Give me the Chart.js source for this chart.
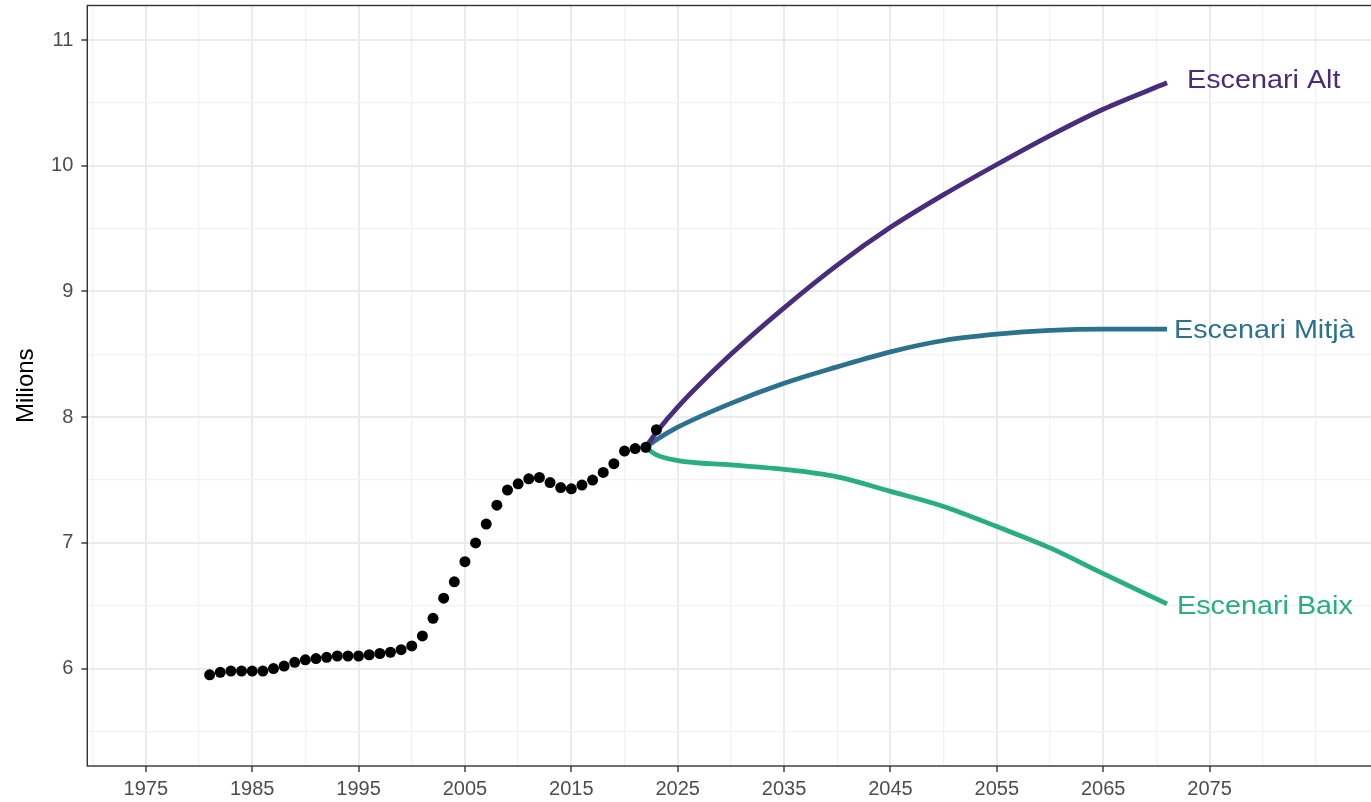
<!DOCTYPE html>
<html>
<head>
<meta charset="utf-8">
<script src="https://cdn.jsdelivr.net/npm/chart.js@4"></script>
<style>
  html, body { margin: 0; padding: 0; background: #fff; overflow: hidden; }
  #wrap { width: 1380px; height: 802px; }
</style>
</head>
<body>
<div id="wrap"><canvas id="chart" width="1380" height="802"></canvas></div>
<script>
// historical population (millions)
const histYears = [1981, 1982, 1983, 1984, 1985, 1986, 1987, 1988, 1989, 1990,
  1991, 1992, 1993, 1994, 1995, 1996, 1997, 1998, 1999, 2000,
  2001, 2002, 2003, 2004, 2005, 2006, 2007, 2008, 2009, 2010,
  2011, 2012, 2013, 2014, 2015, 2016, 2017, 2018, 2019, 2020,
  2021, 2022, 2023];
const histValues = [5.95, 5.97, 5.98, 5.98, 5.98, 5.98, 6.00, 6.02, 6.05, 6.07,
  6.08, 6.09, 6.10, 6.10, 6.10, 6.11, 6.12, 6.13, 6.15, 6.18,
  6.26, 6.40, 6.56, 6.69, 6.85, 7.00, 7.15, 7.30, 7.42, 7.47,
  7.51, 7.52, 7.48, 7.44, 7.43, 7.46, 7.50, 7.56, 7.63, 7.73,
  7.75, 7.76, 7.90];

// projections
const projYears = [2022, 2023, 2025, 2030, 2035, 2040, 2045, 2050, 2055, 2060, 2065, 2071];
const altValues = [7.76, 7.88, 8.08, 8.50, 8.87, 9.21, 9.51, 9.77, 10.01, 10.24, 10.45, 10.66];
const midValues = [7.76, 7.82, 7.92, 8.11, 8.27, 8.40, 8.52, 8.61, 8.66, 8.69, 8.70, 8.70];
const lowValues = [7.76, 7.70, 7.655, 7.62, 7.585, 7.525, 7.41, 7.29, 7.13, 6.96, 6.755, 6.515];

const scenarioNames = ['Escenari Alt', 'Escenari Mitjà', 'Escenari Baix'];
const scenarioColors = ['#472d7b', '#2c728e', '#28ae80'];
const labelDx = [20, 7, 10];
const labelDy = [-2, 2, 3];

const xTicks = [1975, 1985, 1995, 2005, 2015, 2025, 2035, 2045, 2055, 2065, 2075];
const xMinor = [1970, 1980, 1990, 2000, 2010, 2020, 2030, 2040, 2050, 2060, 2070, 2080, 2085];
const yTicks = [6, 7, 8, 9, 10, 11];
const yMinor = [5.5, 6.5, 7.5, 8.5, 9.5, 10.5];

Chart.defaults.font.family = '"Liberation Sans", Arial, sans-serif';

const toXY = (xs, ys) => xs.map((x, i) => ({ x: x, y: ys[i] }));

const scenarioSets = [altValues, midValues, lowValues].map((vals, i) => ({
  type: 'line',
  label: scenarioNames[i],
  data: toXY(projYears, vals),
  borderColor: scenarioColors[i],
  borderWidth: 4.8,
  pointRadius: 0,
  cubicInterpolationMode: 'monotone',
  fill: false,
  order: 1
}));

const panelAndLabels = {
  id: 'panelAndLabels',
  afterDatasetsDraw(chart) {
    const { ctx, chartArea: a, scales } = chart;
    ctx.save();
    ctx.strokeStyle = '#333333';
    ctx.lineWidth = 1.4;
    ctx.strokeRect(a.left, a.top, a.right - a.left, a.bottom - a.top);

    ctx.font = '25px "Liberation Sans", Arial, sans-serif';
    ctx.textBaseline = 'middle';
    ctx.textAlign = 'left';
    [altValues, midValues, lowValues].forEach((vals, i) => {
      const px = scales.x.getPixelForValue(projYears[projYears.length - 1]) + labelDx[i];
      const py = scales.y.getPixelForValue(vals[vals.length - 1]) + labelDy[i];
      ctx.save();
      ctx.translate(px, py);
      ctx.scale(1.15, 1);
      ctx.fillStyle = scenarioColors[i];
      ctx.fillText(scenarioNames[i], 0, 0);
      ctx.restore();
    });
    ctx.restore();
  }
};

function gridOpts(majors) {
  return {
    color: c => majors.includes(c.tick && c.tick.value) ? '#ebebeb' : '#f2f2f2',
    lineWidth: c => majors.includes(c.tick && c.tick.value) ? 2 : 1.3,
    tickColor: c => majors.includes(c.tick && c.tick.value) ? '#333333' : 'rgba(0,0,0,0)',
    tickLength: 6,
    tickWidth: 1.4
  };
}

function noOverhang(s) {
  s.paddingTop = 0;
  s.paddingBottom = 0;
  s.paddingLeft = 0;
  s.paddingRight = 0;
}

new Chart(document.getElementById('chart'), {
  data: {
    datasets: [
      {
        type: 'scatter',
        label: 'Observat',
        data: toXY(histYears, histValues),
        backgroundColor: '#000000',
        borderColor: '#000000',
        pointRadius: 5.5,
        borderWidth: 0,
        order: 0
      },
      ...scenarioSets
    ]
  },
  options: {
    responsive: false,
    animation: false,
    layout: { padding: { top: 4.5, right: 0, left: 0, bottom: 0 } },
    plugins: {
      legend: { display: false },
      tooltip: { enabled: false }
    },
    scales: {
      x: {
        type: 'linear',
        min: 1969.5,
        max: 2090.5,
        afterBuildTicks: s => { s.ticks = [...xTicks, ...xMinor].sort((a, b) => a - b).map(v => ({ value: v })); },
        afterFit: s => { s.height = 36; noOverhang(s); },
        border: { display: false },
        grid: gridOpts(xTicks),
        ticks: {
          autoSkip: false,
          maxRotation: 0,
          padding: 5,
          color: '#4d4d4d',
          font: { size: 20 },
          callback: v => xTicks.includes(v) ? String(v) : ''
        }
      },
      y: {
        type: 'linear',
        min: 5.225,
        max: 11.275,
        afterBuildTicks: s => { s.ticks = [...yTicks, ...yMinor].sort((a, b) => a - b).map(v => ({ value: v })); },
        afterFit: s => { s.width = 87.3; noOverhang(s); },
        border: { display: false },
        grid: gridOpts(yTicks),
        title: {
          display: true,
          text: 'Milions',
          color: '#000000',
          font: { size: 24 },
          padding: { top: 12, bottom: 0 }
        },
        ticks: {
          autoSkip: false,
          padding: 8,
          color: '#4d4d4d',
          font: { size: 20 },
          callback: v => yTicks.includes(v) ? String(v) : ''
        }
      }
    }
  },
  plugins: [panelAndLabels]
});
</script>
</body>
</html>
